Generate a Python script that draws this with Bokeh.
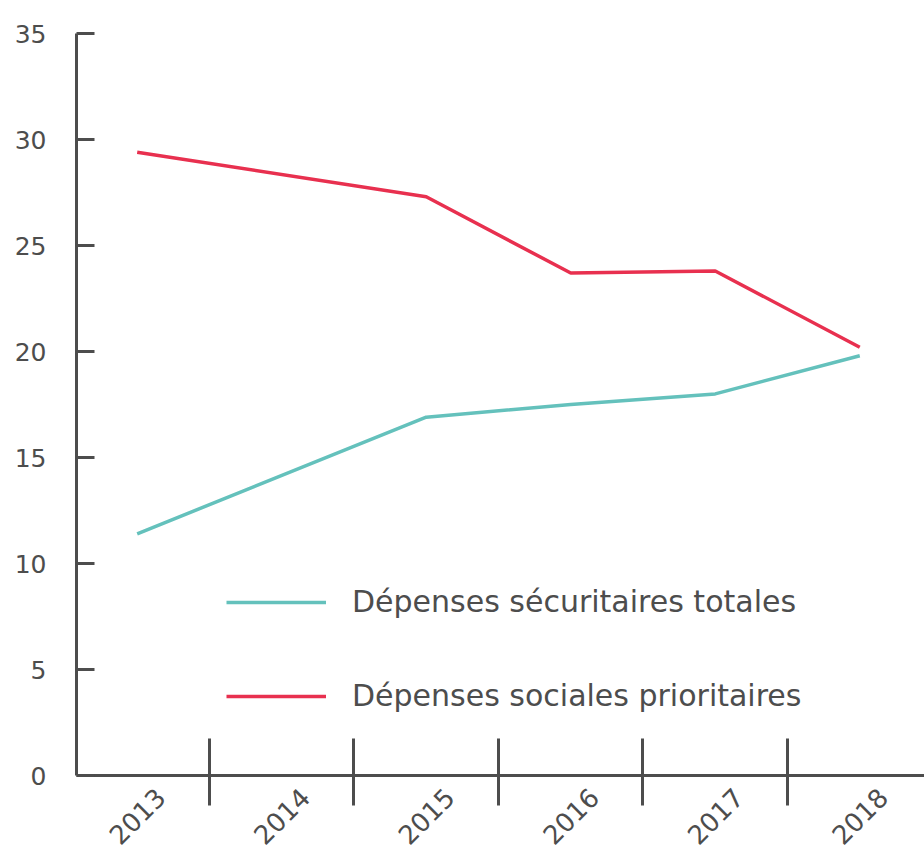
import math
from bokeh.plotting import figure
from bokeh.models import (Range1d, FixedTicker, Legend, LegendItem, LinearAxis)
from bokeh.embed import file_html
from bokeh.resources import INLINE

# ---- data ----
years = ["2013", "2014", "2015", "2016", "2017", "2018"]
point_years = ["2013", "2015", "2016", "2017", "2018"]
securitaires = [11.4, 16.9, 17.5, 18.0, 19.8]
sociales = [29.4, 27.3, 23.7, 23.8, 20.2]
y_ticks = [0, 5, 10, 15, 20, 25, 30, 35]
series_names = ["Dépenses sécuritaires totales", "Dépenses sociales prioritaires"]

TEAL = "#64c1bc"
RED = "#e8304f"
GREY = "#4d4d4d"
FONT = "DejaVu Sans"

idx = {y: i for i, y in enumerate(years)}
xs = [idx[y] for y in point_years]

p = figure(width=924, height=856, output_backend="svg", toolbar_location=None,
           x_range=Range1d(-0.42, 5.448), y_range=Range1d(0, 35),
           x_axis_location=None,
           min_border_left=76, min_border_right=0, min_border_top=33,
           min_border_bottom=10)
p.outline_line_color = None
p.grid.visible = False
p.background_fill_color = "white"
p.border_fill_color = "white"

r1 = p.line(xs, securitaires, line_color=TEAL, line_width=3.5)
r2 = p.line(xs, sociales, line_color=RED, line_width=3.5)

# y axis
ya = p.yaxis[0]
ya.ticker = FixedTicker(ticks=y_ticks)
ya.axis_line_color = GREY
ya.axis_line_width = 3
ya.major_tick_line_color = GREY
ya.major_tick_line_width = 3
ya.major_tick_in = 18
ya.major_tick_out = 0
ya.minor_tick_line_color = None
ya.major_label_standoff = 30
ya.major_label_text_font = FONT
ya.major_label_text_font_size = "25px"
ya.major_label_text_color = GREY

# x axis: ticks at category boundaries
boundaries = [i + 0.5 for i in range(len(years) - 1)]
xa = LinearAxis(ticker=FixedTicker(ticks=boundaries),
                major_label_overrides={b: "" for b in boundaries},
                major_label_standoff=0,
                axis_line_color=GREY, axis_line_width=3,
                major_tick_line_color=GREY, major_tick_line_width=3,
                major_tick_in=37, major_tick_out=30,
                minor_tick_line_color=None)
p.add_layout(xa, "below")

# year labels at category centres (rotated)
centres = list(range(len(years)))
off = 0.16
xl = LinearAxis(ticker=FixedTicker(ticks=[c + off for c in centres]),
                major_label_overrides={c + off: yr for c, yr in zip(centres, years)},
                major_label_orientation=math.pi / 4,
                major_label_standoff=-19,
                axis_line_color=None, major_tick_line_color=None,
                minor_tick_line_color=None,
                major_label_text_font=FONT, major_label_text_font_size="26px",
                major_label_text_color=GREY)
p.add_layout(xl, "below")

legend = Legend(items=[LegendItem(label=series_names[0], renderers=[r1]),
                       LegendItem(label=series_names[1], renderers=[r2])],
                location=(150, 62), glyph_width=100, glyph_height=30,
                label_height=30, spacing=59, padding=0, margin=0,
                label_standoff=26, border_line_color=None,
                background_fill_alpha=0,
                label_text_font=FONT, label_text_font_size="30px",
                label_text_color=GREY)
p.add_layout(legend, "center")

open("out.html", "w").write(file_html(p, INLINE))
